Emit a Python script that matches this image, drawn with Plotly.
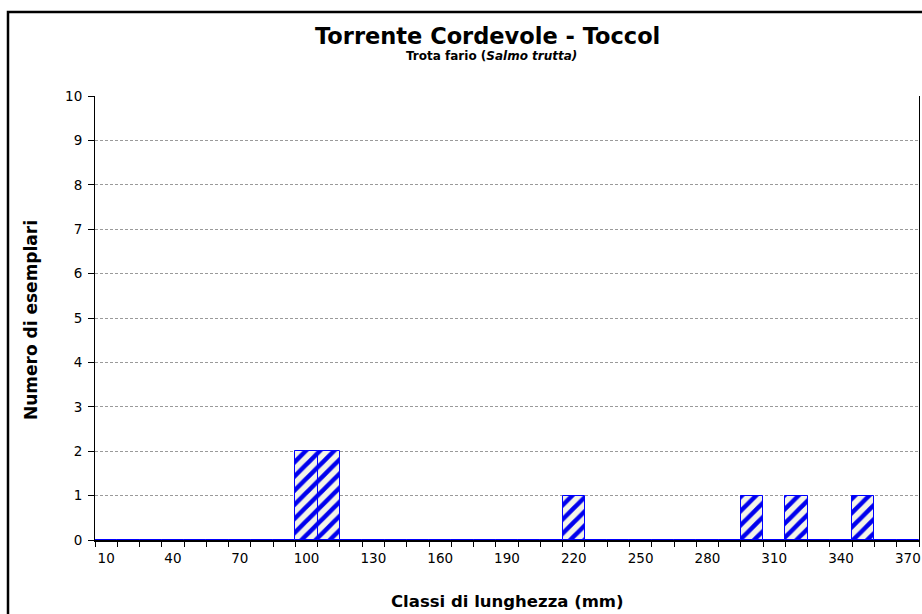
import plotly.graph_objects as go

# Data
classes = list(range(10, 380, 10))
counts_map = {100: 2, 110: 2, 220: 1, 300: 1, 320: 1, 350: 1}
categories = [str(c) for c in classes]
counts = [counts_map.get(c, 0) for c in classes]
tick_labels = [str(c) if i % 3 == 0 else "" for i, c in enumerate(classes)]

title = "Torrente Cordevole - Toccol"
subtitle = "Trota fario (<i>Salmo trutta)</i>"
x_title = "Classi di lunghezza (mm)"
y_title = "Numero di esemplari"

W, H = 922, 614
L, R, T, B = 95, 3, 96, 74
pw, ph = W - L - R, H - T - B


def px(x):
    return (x - L) / pw


def py(y):
    return (H - B - y) / ph


FONT = "DejaVu Sans"

fig = go.Figure()
fig.add_trace(go.Bar(
    x=categories,
    y=counts,
    marker=dict(
        color="#f4f4e8",
        line=dict(color="#0000ff", width=1),
        pattern=dict(shape="/", fgcolor="#0000ee", bgcolor="#f4f4e8",
                     size=10, solidity=0.45, fillmode="replace", fgopacity=1),
    ),
    hoverinfo="x+y",
))

fig.update_layout(
    width=W, height=H,
    margin=dict(l=L, r=R, t=T, b=B, autoexpand=False),
    paper_bgcolor="white",
    plot_bgcolor="white",
    bargap=0,
    showlegend=False,
    font=dict(family=FONT, color="black", size=13),
    xaxis=dict(
        type="category",
        tickmode="array",
        tickvals=categories,
        ticktext=tick_labels,
        tickson="boundaries",
        ticks="outside",
        ticklen=5,
        tickangle=0,
        tickcolor="black",
        ticklabelstandoff=5,
        showline=True,
        linecolor="black",
        linewidth=1.5,
        showgrid=False,
        tickfont=dict(family=FONT, size=13.5),
        range=[-0.5, len(categories) - 0.5],
        automargin=False,
    ),
    yaxis=dict(
        range=[0, 10],
        dtick=1,
        ticks="outside",
        ticklen=6,
        tickcolor="black",
        ticklabelstandoff=3,
        showline=True,
        mirror=True,
        linecolor="black",
        linewidth=1,
        showgrid=True,
        gridcolor="#9a9a9a",
        griddash="3px,2px",
        gridwidth=1,
        zeroline=False,
        tickfont=dict(family=FONT, size=13.5),
        automargin=False,
    ),
    annotations=[
        dict(text="<b>" + title + "</b>", x=px(487), y=py(36), xref="paper", yref="paper",
             showarrow=False, font=dict(family=FONT, size=22.5, color="black"),
             xanchor="center", yanchor="middle"),
        dict(text="<b>" + subtitle + "</b>", x=px(491), y=py(56), xref="paper", yref="paper",
             showarrow=False, font=dict(family=FONT, size=12, color="black"),
             xanchor="center", yanchor="middle"),
        dict(text="<b>" + x_title + "</b>", x=px(507), y=py(601), xref="paper", yref="paper",
             showarrow=False, font=dict(family=FONT, size=16.5, color="black"),
             xanchor="center", yanchor="middle"),
        dict(text="<b>" + y_title + "</b>", x=px(31), y=py(320), xref="paper", yref="paper",
             showarrow=False, font=dict(family=FONT, size=17, color="black"),
             xanchor="center", yanchor="middle", textangle=-90),
    ],
    shapes=[
        dict(type="rect", xref="paper", yref="paper",
             x0=px(8), x1=px(940), y0=py(640), y1=py(12),
             line=dict(color="black", width=2.5), fillcolor="rgba(0,0,0,0)", layer="above"),
    ],
)

fig.write_html("out.html", config={"displayModeBar": False},
               post_script="document.body.style.margin='0';document.body.style.overflow='hidden';")
